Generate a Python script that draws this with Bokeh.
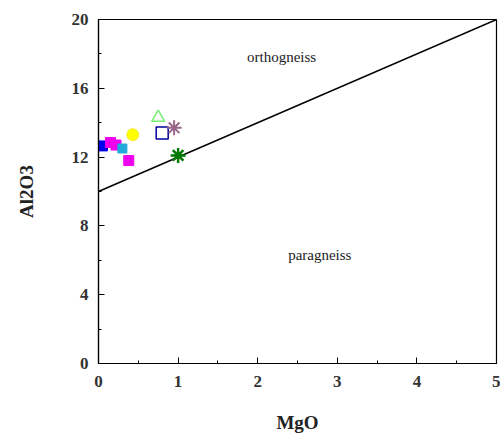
from bokeh.plotting import figure
from bokeh.models import SingleIntervalTicker, Range1d, Label
from bokeh.embed import file_html
from bokeh.resources import INLINE

# boundary line orthogneiss / paragneiss
line_x = [0, 5]
line_y = [10, 20]

# samples: (MgO, Al2O3)
blue_sq_x = [0.05]; blue_sq_y = [12.65]
mag_sq_x = [0.15, 0.22, 0.38]; mag_sq_y = [12.85, 12.7, 11.8]
cyan_x = [0.3]; cyan_y = [12.5]
yellow_x = [0.43]; yellow_y = [13.3]
green_tri_x = [0.75]; green_tri_y = [14.3]
navy_sq_x = [0.8]; navy_sq_y = [13.4]
purple_star_x = [0.95]; purple_star_y = [13.7]
green_ast_x = [1.0]; green_ast_y = [12.1]

x_label = "MgO"
y_label = "Al2O3"

p = figure(width=500, height=439, output_backend="svg", toolbar_location=None,
           x_range=Range1d(0, 5), y_range=Range1d(0, 20),
           min_border_left=98, min_border_right=4, min_border_top=19, min_border_bottom=76)
p.grid.visible = False
p.outline_line_color = "black"
p.outline_line_width = 1.2
p.background_fill_color = "white"

p.xaxis.ticker = SingleIntervalTicker(interval=1, num_minor_ticks=2)
p.yaxis.ticker = SingleIntervalTicker(interval=4, num_minor_ticks=2)
for ax in (p.xaxis[0], p.yaxis[0]):
    ax.major_tick_in = 6
    ax.major_tick_out = 0
    ax.minor_tick_in = 3
    ax.minor_tick_out = 0
    ax.axis_line_color = "black"
    ax.axis_line_width = 1.2
    ax.major_label_text_font = "Liberation Serif"
    ax.major_label_text_font_style = "bold"
    ax.major_label_text_font_size = "17px"
    ax.major_label_text_color = "#333333"
    ax.axis_label_text_font = "Liberation Serif"
    ax.axis_label_text_font_style = "bold"
    ax.axis_label_text_font_size = "19px"
    ax.axis_label_text_color = "#222222"
p.xaxis.axis_label = x_label
p.yaxis.axis_label = y_label
p.xaxis.major_label_standoff = 12
p.xaxis.axis_label_standoff = 22
p.yaxis.major_label_standoff = 10
p.yaxis.axis_label_standoff = 32

p.line(line_x, line_y, line_color="black", line_width=1.5)

p.scatter(blue_sq_x, blue_sq_y, marker="square", size=10, fill_color="#0000ee", line_color="#0000ee")
p.scatter(mag_sq_x, mag_sq_y, marker="square", size=10, fill_color="#ee00ee", line_color="#ee00ee")
p.scatter(cyan_x, cyan_y, marker="square", size=9, fill_color="#22aadd", line_color="#22aadd")
p.scatter(yellow_x, yellow_y, marker="circle", size=12, fill_color="#ffff00", line_color="#eeee33")
p.scatter(green_tri_x, green_tri_y, marker="triangle", size=13, fill_color=None, line_color="#77ee77", line_width=1.5)
p.scatter(navy_sq_x, navy_sq_y, marker="square", size=12, fill_color=None, line_color="#000099", line_width=1.5)
p.scatter(purple_star_x, purple_star_y, marker="asterisk", size=15, line_color="#996688", line_width=2)
p.scatter(green_ast_x, green_ast_y, marker="asterisk", size=15, line_color="#007700", line_width=2.5)

p.add_layout(Label(x=2.3, y=17.8, text="orthogneiss", text_font="Liberation Serif",
                   text_font_size="15px", text_align="center", text_baseline="middle", text_color="#222222"))
p.add_layout(Label(x=2.78, y=6.3, text="paragneiss", text_font="Liberation Serif",
                   text_font_size="15px", text_align="center", text_baseline="middle", text_color="#222222"))

open("out.html", "w").write(file_html(p, INLINE))
